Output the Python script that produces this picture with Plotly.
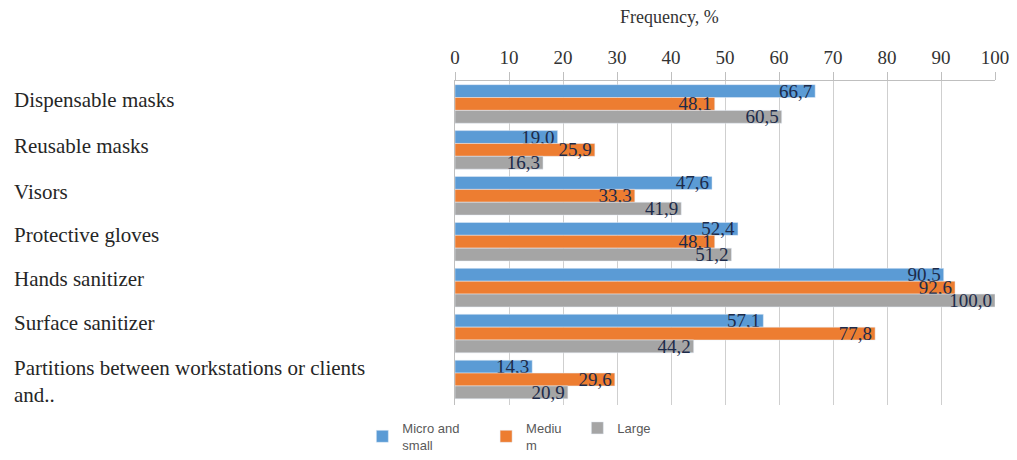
import plotly.graph_objects as go

categories = [
    "Dispensable masks",
    "Reusable masks",
    "Visors",
    "Protective gloves",
    "Hands sanitizer",
    "Surface sanitizer",
    "Partitions between workstations or clients<br>and..",
]
micro_small = [66.7, 19.0, 47.6, 52.4, 90.5, 57.1, 14.3]
medium = [48.1, 25.9, 33.3, 48.1, 92.6, 77.8, 29.6]
large = [60.5, 16.3, 41.9, 51.2, 100.0, 44.2, 20.9]

series = [
    ("Micro and&nbsp;&nbsp;&nbsp;&nbsp;&nbsp;&nbsp;<br>small", micro_small, "#5B9BD5"),
    ("Mediu&nbsp;&nbsp;&nbsp;<br>m", medium, "#ED7D31"),
    ("Large", large, "#A5A5A5"),
]

serif = "Liberation Serif, Times New Roman, serif"

fig = go.Figure()
for name, vals, color in series:
    fig.add_trace(go.Bar(
        y=categories,
        x=vals,
        name=name,
        orientation="h",
        marker={"color": color},
        text=[f"{v:.1f}".replace(".", ",") for v in vals],
        textposition="inside",
        insidetextanchor="end",
        constraintext="none",
        textfont={"family": serif, "size": 19, "color": "#1d2b4a"},
    ))

# category names sit left-aligned at the far left edge; in the original they
# creep upward a little relative to the bar groups
label_shift = [4, 4, 4, 7, 9, 11, -2]
for cat, shift in zip(categories, label_shift):
    fig.add_annotation(
        x=-0.82, xref="paper", y=cat, yref="y",
        text=cat, showarrow=False, xanchor="left", yanchor="middle",
        align="left", yshift=shift,
        font={"family": serif, "size": 21, "color": "#262626"},
    )

fig.add_annotation(
    x=0.398, xref="paper", y=1.198, yref="paper",
    text="Frequency, %", showarrow=False, xanchor="center", yanchor="middle",
    font={"family": serif, "size": 18, "color": "#333333"},
)

# page body has an 8px margin on every side, keep the figure inside the window
fig.update_layout(
    width=1001,
    height=444,
    margin={"l": 447, "r": 14, "t": 73, "b": 47, "autoexpand": False},
    paper_bgcolor="white",
    plot_bgcolor="white",
    barmode="group",
    bargap=0.16,
    bargroupgap=0,
    xaxis={
        "side": "top",
        "range": [0, 100],
        "dtick": 10,
        "showgrid": True,
        "gridcolor": "#cfcfcf",
        "showline": True,
        "linecolor": "#bfbfbf",
        "ticks": "outside",
        "ticklen": 8,
        "tickcolor": "#bfbfbf",
        "zeroline": False,
        "ticklabeloverflow": "allow",
        "tickfont": {"family": serif, "size": 19, "color": "#333333"},
    },
    yaxis={
        "autorange": "reversed",
        "showticklabels": False,
        "showline": True,
        "linecolor": "#bfbfbf",
        "showgrid": False,
    },
    legend={
        "orientation": "h",
        "xref": "container",
        "yref": "container",
        "x": 0.354,
        "xanchor": "left",
        "y": 0.088,
        "yanchor": "top",
        "font": {"family": "Liberation Sans, Arial, sans-serif", "size": 13, "color": "#595959"},
        "traceorder": "normal",
    },
)

fig.write_html("out.html")
